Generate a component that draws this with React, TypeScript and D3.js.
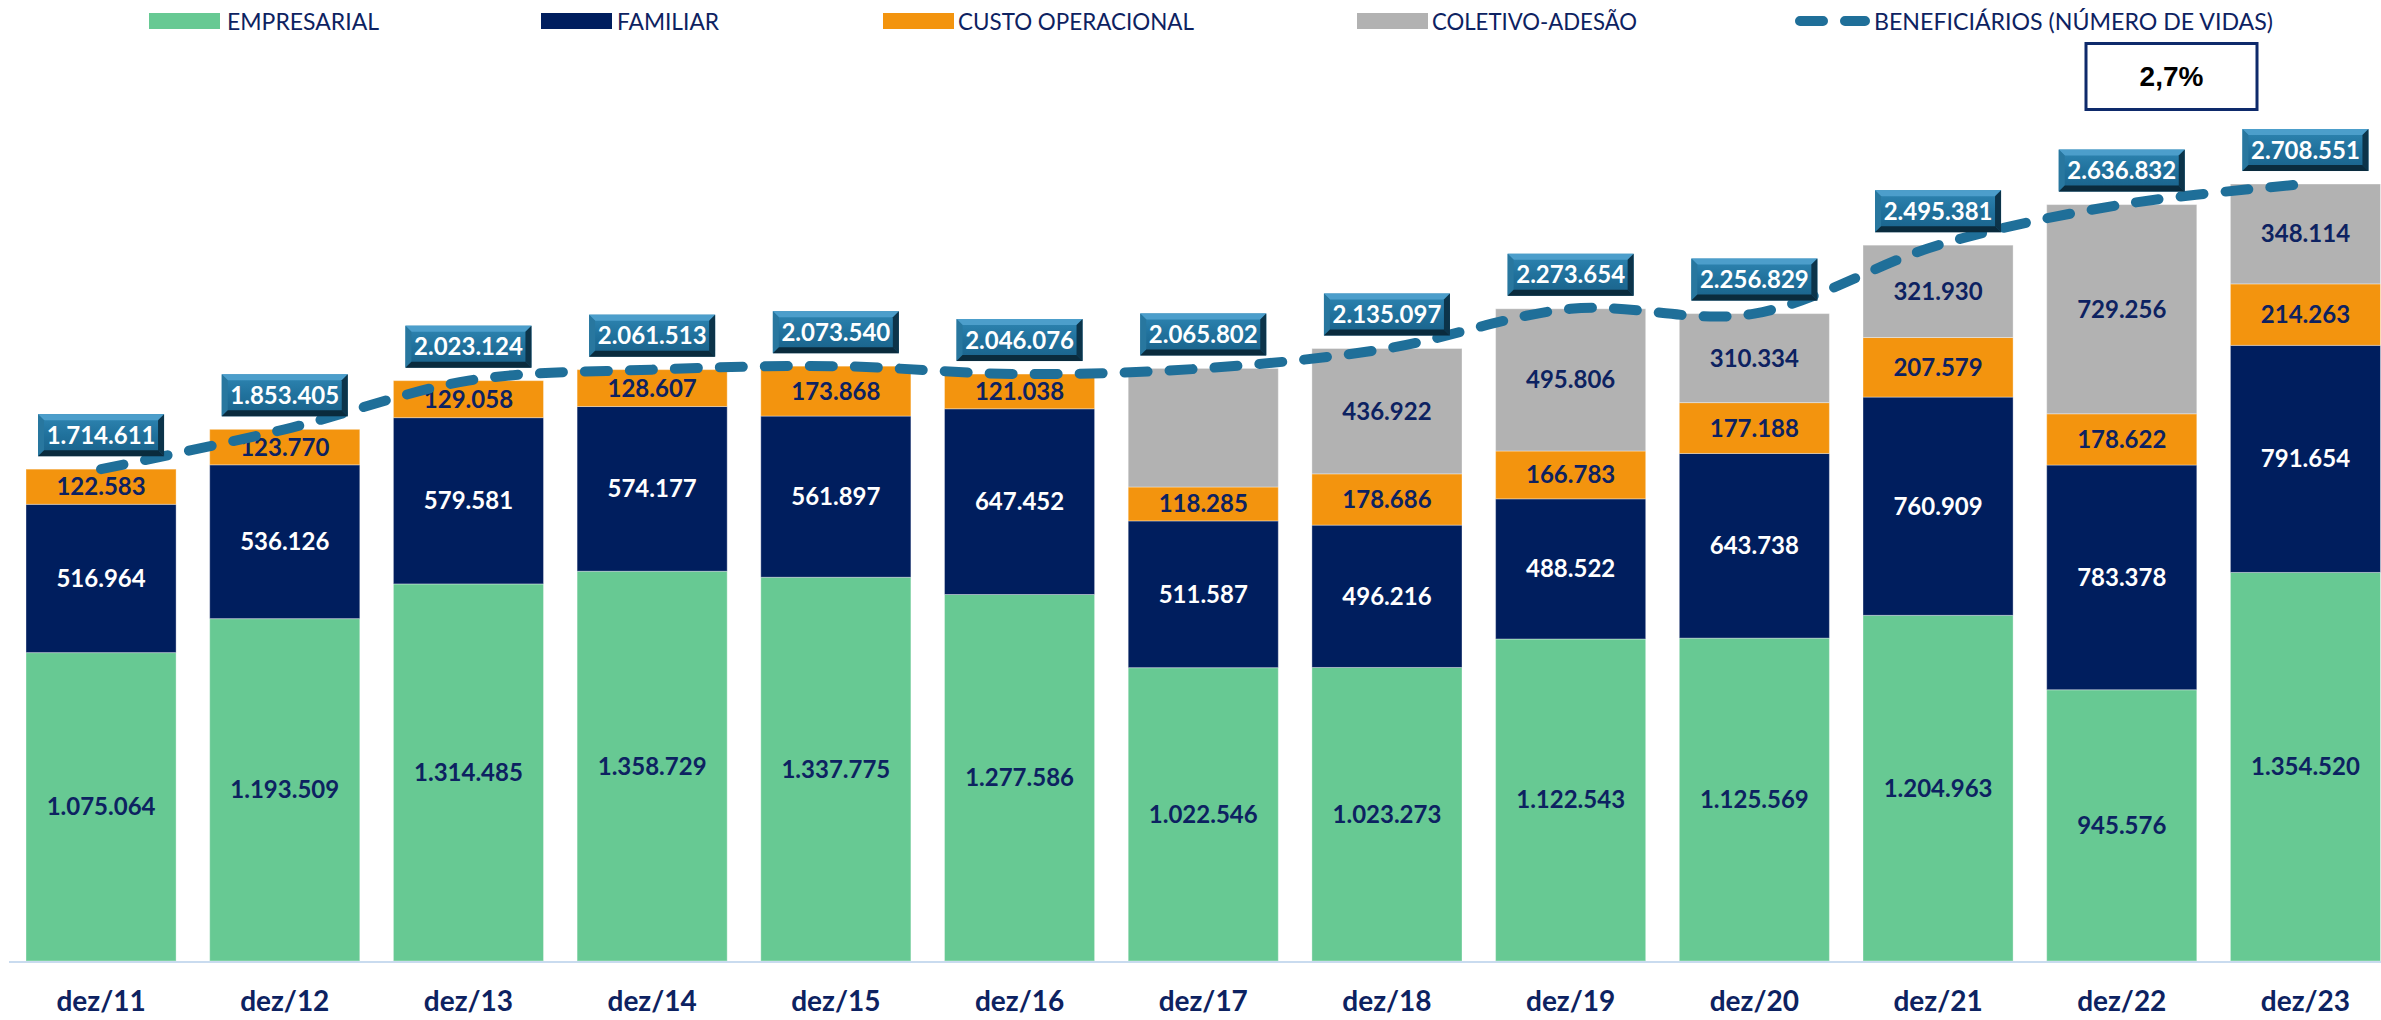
import React from "react";
import * as d3 from "d3";

const categories = ["dez/11","dez/12","dez/13","dez/14","dez/15","dez/16","dez/17","dez/18","dez/19","dez/20","dez/21","dez/22","dez/23"];
const empresarial = [1075064,1193509,1314485,1358729,1337775,1277586,1022546,1023273,1122543,1125569,1204963,945576,1354520];
const familiar = [516964,536126,579581,574177,561897,647452,511587,496216,488522,643738,760909,783378,791654];
const custoOperacional = [122583,123770,129058,128607,173868,121038,118285,178686,166783,177188,207579,178622,214263];
const coletivoAdesao = [0,0,0,0,0,0,413384,436922,495806,310334,321930,729256,348114];
const coletivoLabelShown = [false,false,false,false,false,false,false,true,true,true,true,true,true];
const beneficiarios = [1714611,1853405,2023124,2061513,2073540,2046076,2065802,2135097,2273654,2256829,2495381,2636832,2708551];
const growthLabel = "2,7%";

const W = 2381, H = 1020;
const COLORS = {
  emp: "#67c993",
  fam: "#001e5e",
  custo: "#f3940e",
  colet: "#b2b2b2",
  line: "#1f6f99",
  text: "#0d2261",
};

const locale = d3.formatLocale({ decimal: ",", thousands: ".", grouping: [3], currency: ["", ""] });
const fmt = locale.format(",d");

const seriesDefs = [
  { key: "emp", name: "EMPRESARIAL", values: empresarial, color: COLORS.emp, textColor: COLORS.text },
  { key: "fam", name: "FAMILIAR", values: familiar, color: COLORS.fam, textColor: "#ffffff" },
  { key: "custo", name: "CUSTO OPERACIONAL", values: custoOperacional, color: COLORS.custo, textColor: COLORS.text },
  { key: "colet", name: "COLETIVO-ADESÃO", values: coletivoAdesao, color: COLORS.colet, textColor: COLORS.text },
];

export default function App() {
  const x = d3.scaleBand<string>().domain(categories).range([9.2, 9.2 + 13 * 183.7]).paddingInner(0.183).paddingOuter(0.0915);
  const y = d3.scaleLinear().domain([0, 3000000]).range([961, 961 - 3000000 / 3486]);
  const bw = x.bandwidth();
  const cx = (c: string) => (x(c) as number) + bw / 2;

  const segs: any[] = [];
  categories.forEach((c, i) => {
    let acc = 0;
    seriesDefs.forEach((s) => {
      const v = s.values[i];
      if (v > 0) {
        const y0 = y(acc), y1 = y(acc + v);
        const showLabel = s.key !== "colet" || coletivoLabelShown[i];
        segs.push({ key: s.key + i, x: x(c), y: y1, h: y0 - y1, color: s.color, label: showLabel ? fmt(v) : null, textColor: s.textColor, cy: (y0 + y1) / 2, cx: cx(c) });
      }
      acc += v;
    });
  });

  const linePath = d3.line<number>().x((_, i) => cx(categories[i])).y((d) => y(d)).curve(d3.curveCardinal.tension(0))(beneficiarios) as string;

  const boxW = 126, boxH = 42, bev = 6;

  const legendItems = [
    { type: "rect", color: COLORS.emp, sx: 149, tx: 227, tw: 152, name: "EMPRESARIAL" },
    { type: "rect", color: COLORS.fam, sx: 541, tx: 617, tw: 102, name: "FAMILIAR" },
    { type: "rect", color: COLORS.custo, sx: 883, tx: 958, tw: 236, name: "CUSTO OPERACIONAL" },
    { type: "rect", color: COLORS.colet, sx: 1357, tx: 1432, tw: 205, name: "COLETIVO-ADESÃO" },
    { type: "line", color: COLORS.line, sx: 1800, tx: 1874, tw: 399, name: "BENEFICIÁRIOS (NÚMERO DE VIDAS)" },
  ];

  const font = "Lato, 'Open Sans', sans-serif";

  return (
    <svg width={W} height={H} viewBox={`0 0 ${W} ${H}`} style={{ position: "absolute", left: 0, top: 0, background: "#fff" }}>
      <defs>
        <linearGradient id="boxFace" x1="0" y1="0" x2="0" y2="1">
          <stop offset="0" stopColor="#2f86b3" />
          <stop offset="0.5" stopColor="#20719c" />
          <stop offset="1" stopColor="#1a628a" />
        </linearGradient>
      </defs>
      <rect x={0} y={0} width={W} height={H} fill="#ffffff" />

      {/* legend */}
      {legendItems.map((it) => (
        <g key={it.name}>
          {it.type === "rect" ? (
            <rect x={it.sx} y={13} width={71} height={16} fill={it.color} />
          ) : (
            <line x1={it.sx} x2={it.sx + 65} y1={21} y2={21} stroke={it.color} strokeWidth={10} strokeLinecap="round" strokeDasharray="23 22" />
          )}
          <text x={it.tx} y={30} fontFamily={font} fontSize={24} fill={COLORS.text} textLength={it.tw} lengthAdjust="spacingAndGlyphs">{it.name}</text>
        </g>
      ))}

      {/* growth box */}
      <rect x={2086} y={43.5} width={171} height={66} fill="#ffffff" stroke="#0e2a6b" strokeWidth={3} />
      <text x={2171.5} y={86} textAnchor="middle" fontFamily="'Liberation Sans', Arial, sans-serif" fontWeight="bold" fontSize={28} fill="#000">{growthLabel}</text>

      {/* bars */}
      {segs.map((s) => (
        <rect key={s.key} x={s.x} y={s.y} width={bw} height={s.h} fill={s.color} stroke="#ffffff" strokeOpacity={0.35} strokeWidth={1} />
      ))}
      {segs.filter((s) => s.label).map((s) => (
        <text key={"t" + s.key} x={s.cx} y={s.cy + 8.5} textAnchor="middle" fontFamily={font} fontWeight="bold" fontSize={24} fill={s.textColor}>{s.label}</text>
      ))}

      {/* axis line */}
      <line x1={9} x2={W} y1={962} y2={962} stroke="#c9dbef" strokeWidth={2} />

      {/* x labels */}
      {categories.map((c) => (
        <text key={c} x={cx(c)} y={1011} textAnchor="middle" fontFamily={font} fontWeight="bold" fontSize={28} fill={COLORS.text}>{c}</text>
      ))}

      {/* beneficiaries line */}
      <path d={linePath} fill="none" stroke={COLORS.line} strokeWidth={10} strokeLinecap="round" strokeDasharray="23 22" />

      {/* total boxes */}
      {beneficiarios.map((v, i) => {
        const bx = cx(categories[i]) - boxW / 2;
        const by = y(v) - 13 - boxH;
        const r = bx + boxW, b = by + boxH;
        return (
          <g key={"b" + i}>
            <rect x={bx} y={by} width={boxW} height={boxH} fill="url(#boxFace)" />
            <polygon points={`${bx},${by} ${r},${by} ${r - bev},${by + bev} ${bx + bev},${by + bev}`} fill="#4c9ecb" />
            <polygon points={`${bx},${by} ${bx + bev},${by + bev} ${bx + bev},${b - bev} ${bx},${b}`} fill="#28779f" />
            <polygon points={`${r},${by} ${r},${b} ${r - bev},${b - bev} ${r - bev},${by + bev}`} fill="#0c344a" />
            <polygon points={`${bx},${b} ${bx + bev},${b - bev} ${r - bev},${b - bev} ${r},${b}`} fill="#0a2b3d" />
            <text x={bx + boxW / 2} y={by + boxH / 2 + 8.5} textAnchor="middle" fontFamily={font} fontWeight="bold" fontSize={24} fill="#ffffff">{fmt(v)}</text>
          </g>
        );
      })}
    </svg>
  );
}
